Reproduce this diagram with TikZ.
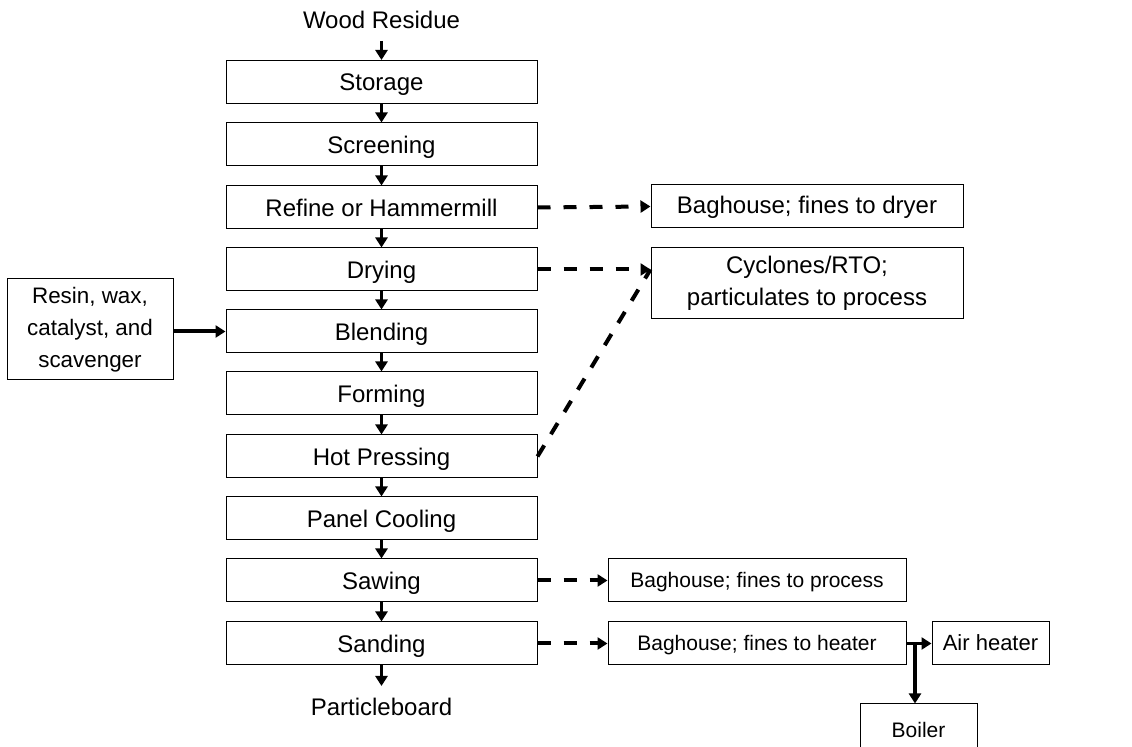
\documentclass[tikz,border=0pt]{standalone}
\usepackage{fontspec}
\setmainfont{Liberation Sans}
\usetikzlibrary{positioning,arrows.meta}

\tikzset{
  stepbox/.style={draw,line width=0.5pt,minimum width=155.5pt,minimum height=21.5pt,inner sep=0pt,text height=8.6pt,text depth=0pt},
  sidebox/.style={draw,line width=0.5pt,minimum height=21.5pt,inner sep=0pt,align=center},
  sideline/.style={draw,line width=0.5pt,minimum height=21.5pt,inner sep=0pt,text height=0.716em,text depth=0pt},
  endtext/.style={inner sep=6pt,text height=8.6pt,text depth=0pt},
  smalltext/.style={font=\fontsize{10.5}{13}\selectfont},
  flow/.style={->,line width=1.5pt},
  waste/.style={->,line width=2pt,dash pattern=on 6.5pt off 6.5pt},
}

\begin{document}
\begin{tikzpicture}[>={Triangle[length=5pt,width=6pt]},x=0.5pt,y=-0.5pt,font=\fontsize{12}{16}\selectfont]
        \useasboundingbox (0,0) rectangle (1132,747);
        % main line
        \node[endtext] (wood) at (381.5,20) {Wood Residue};
        \node[stepbox] (stor) at (381.5,82) {Storage};
        \node[stepbox] (scr) at (381.5,144.5) {Screening};
        \node[stepbox] (ref) at (381.5,207.5) {Refine or Hammermill};
        \node[stepbox] (dry) at (381.5,269.5) {Drying};
        \node[stepbox] (blend) at (381.5,331.5) {Blending};
        \node[stepbox] (form) at (381.5,393.5) {Forming};
        \node[stepbox] (hot) at (381.5,456.5) {Hot Pressing};
        \node[stepbox] (cool) at (381.5,518.5) {Panel Cooling};
        \node[stepbox] (saw) at (381.5,580.5) {Sawing};
        \node[stepbox] (sand) at (381.5,643.5) {Sanding};
        \node[endtext] (part) at (381.5,707) {Particleboard};
        \draw[flow] (wood) -- (stor);
        \draw[flow] (stor) -- (scr);
        \draw[flow] (scr) -- (ref);
        \draw[flow] (ref) -- (dry);
        \draw[flow] (dry) -- (blend);
        \draw[flow] (blend) -- (form);
        \draw[flow] (form) -- (hot);
        \draw[flow] (hot) -- (cool);
        \draw[flow] (cool) -- (saw);
        \draw[flow] (saw) -- (sand);
        \draw[flow] (sand) -- (part);
        % additives
        \node[sidebox,minimum width=83pt,minimum height=50.5pt,font=\fontsize{11.2}{16}\selectfont] (resin) at (90,329.5) {Resin, wax,\\catalyst, and\\scavenger};
        \draw[flow,line width=2pt] (resin.east |- blend) -- (blend.west);
        % emission control
        \node[sideline,minimum width=156pt] (bagdry) at (807,206.5) {Baghouse; fines to dryer};
        \node[sidebox,minimum width=156pt,minimum height=35.5pt] (cyc) at (807,283.5) {Cyclones/RTO;\\particulates to process};
        \node[sideline,minimum width=149pt,smalltext] (bagproc) at (757,580.5) {Baghouse; fines to process};
        \node[sideline,minimum width=149pt,smalltext] (bagheat) at (757,643.5) {Baghouse; fines to heater};
        \node[sideline,minimum width=58.5pt,font=\fontsize{11}{13}\selectfont] (air) at (990.5,643.5) {Air heater};
        \node[sideline,minimum width=58.5pt,minimum height=26pt,smalltext] (boiler) at (918.5,730) {Boiler};
        \coordinate (split) at (915,643.5);
        \draw[waste] (ref.east) -- (bagdry.west);
        \draw[waste] (dry.east) -- (dry.east -| cyc.west);
        \draw[line width=2pt,dash pattern=on 6.5pt off 6.5pt] (hot.east) -- (dry.east -| cyc.west);
        \draw[waste] (saw.east) -- (bagproc.west);
        \draw[waste] (sand.east) -- (bagheat.west);
        \draw[flow] (bagheat.east) -- (air.west);
        \draw[flow,line width=2pt] (split) -- (split |- boiler.north);
    \end{tikzpicture}
\end{document}
